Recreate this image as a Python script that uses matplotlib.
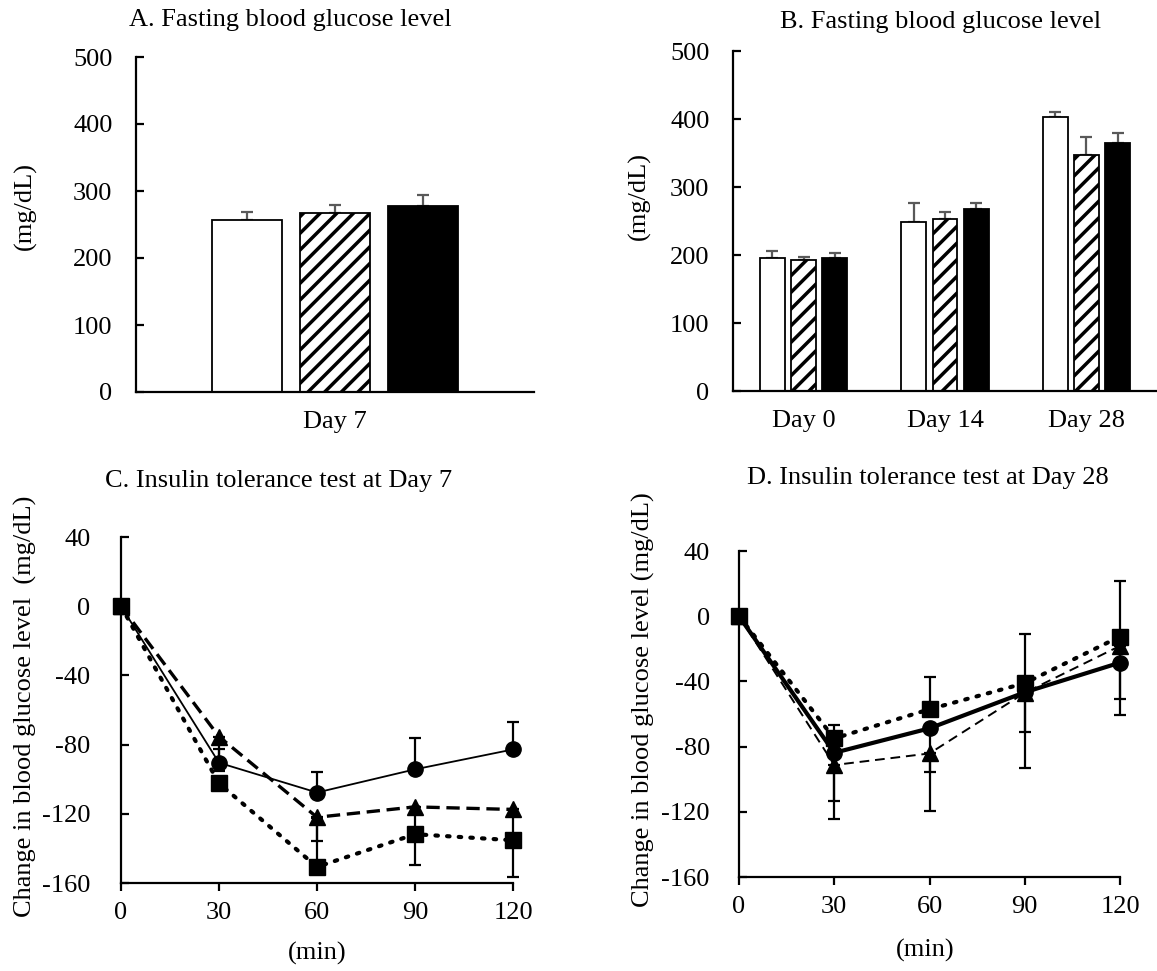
import matplotlib
matplotlib.use("Agg")
import matplotlib.pyplot as plt
import numpy as np

plt.rcParams['font.family'] = ['Liberation Serif', 'DejaVu Serif']
plt.rcParams['font.size'] = 19
plt.rcParams['axes.unicode_minus'] = False
plt.rcParams['hatch.linewidth'] = 2.5

# ===== data =====
a_groups = ["Day 7"]
a_white = [257]
a_white_err = [11]
a_hatch = [267]
a_hatch_err = [11.5]
a_black = [278]
a_black_err = [16]

b_groups = ["Day 0", "Day 14", "Day 28"]
b_white = [195, 249, 403]
b_white_err = [11, 27, 8]
b_hatch = [193, 253, 347]
b_hatch_err = [4, 10, 26]
b_black = [195, 268, 364]
b_black_err = [8, 8, 16]

minutes = [0, 30, 60, 90, 120]
c_circle = [0, -90.5, -107.7, -94.3, -82.8]
c_circle_up = [0, 8, 12, 18, 16]
c_triangle = [0, -75.4, -122, -116, -117.5]
c_triangle_dn = [0, 20, 14, 15, 18]
c_square = [0, -102.4, -150.7, -131.8, -135.3]
c_square_dn = [0, 4, 0, 18, 21]
c_square_up = [0, 0, 28, 0, 0]

d_circle = [0, -83.8, -68.8, -46.7, -28.5]
d_circle_dn = [0, 29.5, 26.7, 24.2, 22.5]
d_square = [0, -75, -57.1, -41.1, -12.5]
d_square_up = [0, 8, 20, 30, 34]
d_triangle = [0, -91.3, -84.2, -47, -18.2]
d_triangle_dn = [0, 33.4, 35.4, 46.4, 42.4]

W, H = 1157, 971
fig = plt.figure(figsize=(W / 100, H / 100), dpi=100)


def px_axes(x0, y0, x1, y1):
    return fig.add_axes([x0 / W, 1 - y1 / H, (x1 - x0) / W, (y1 - y0) / H])


def style_axes(ax, ypad):
    for s in ["top", "right"]:
        ax.spines[s].set_visible(False)
    for s in ["left", "bottom"]:
        ax.spines[s].set_linewidth(1.6)
    ax.tick_params(axis="y", direction="in", length=6, width=1.6, pad=ypad)


def bar_panel(ax, groups, white, white_err, hatch, hatch_err, black, black_err):
    x = np.arange(len(groups))
    off, bw = 0.221, 0.176
    series = [(white, white_err, "white", None, -off),
              (hatch, hatch_err, "white", "//", 0),
              (black, black_err, "black", None, off)]
    for vals, err, fc, h, dx in series:
        ax.errorbar(x + dx, vals, yerr=[np.zeros(len(vals)), err], fmt="none",
                    ecolor="#595959", elinewidth=1.6, capsize=4.5, capthick=1.6, zorder=1)
        ax.bar(x + dx, vals, bw, color=fc, edgecolor="black", linewidth=1.3,
               hatch=h, zorder=2)
    ax.set_xticks(x)
    ax.set_xticklabels(groups)
    ax.tick_params(axis="x", length=0, pad=14)
    ax.set_xlim(-0.5, len(groups) - 0.5)
    ax.set_ylim(0, 500)
    ax.set_yticks(range(0, 501, 100))


def line_panel(ax, circle, circle_err, triangle, triangle_err, square, square_err,
               styles):
    ek = dict(fmt="none", ecolor="black", elinewidth=1.6, capsize=4.5,
              capthick=1.6, zorder=2, clip_on=False)
    for vals, err in [(circle, circle_err), (triangle, triangle_err), (square, square_err)]:
        ax.errorbar(minutes, vals, yerr=err, **ek)
    for vals, mk, ms, (ls, lw) in [(circle, "o", 11, styles[0]),
                                   (triangle, "^", 11, styles[1]),
                                   (square, "s", 11, styles[2])]:
        ax.plot(minutes, vals, color="black", linestyle=ls, linewidth=lw, marker=mk,
                markersize=ms, zorder=3, clip_on=False)
    ax.set_xlim(0, 120)
    ax.set_ylim(-160, 40)
    ax.set_xticks(minutes)
    ax.set_yticks(range(-160, 41, 40))
    ax.tick_params(axis="x", direction="out", length=6, width=1.6, pad=8)


# A
ax_a = px_axes(136, 57, 534, 392)
style_axes(ax_a, 17)
bar_panel(ax_a, a_groups, a_white, a_white_err, a_hatch, a_hatch_err, a_black, a_black_err)

# B
ax_b = px_axes(733, 51, 1157, 391)
style_axes(ax_b, 17)
bar_panel(ax_b, b_groups, b_white, b_white_err, b_hatch, b_hatch_err, b_black, b_black_err)

# C
ax_c = px_axes(121, 537, 513, 883)
style_axes(ax_c, 22)
line_panel(ax_c, c_circle, [np.zeros(5), c_circle_up],
           c_triangle, [c_triangle_dn, np.zeros(5)],
           c_square, [c_square_dn, c_square_up],
           [("-", 1.3), ((0, (4, 2)), 2.4), ((0, (0.6, 2.2)), 3.0)])
for ln in ax_c.lines[-1:]:
    ln.set_dash_capstyle("round")

# D
ax_d = px_axes(739, 551, 1120, 877)
style_axes(ax_d, 21)
line_panel(ax_d, d_circle, [d_circle_dn, np.zeros(5)],
           d_triangle, [d_triangle_dn, np.zeros(5)],
           d_square, [np.zeros(5), d_square_up],
           [("-", 3.0), ((0, (5, 3)), 1.4), ((0, (0.6, 2.2)), 3.0)])
for ln in ax_d.lines[-1:]:
    ln.set_dash_capstyle("round")

# titles and axis labels
def ftext(x, y, s, **kw):
    fig.text(x / W, 1 - y / H, s, ha="center", va="center", **kw)

ftext(290, 20, "A. Fasting blood glucose level")
ftext(941, 22, "B. Fasting blood glucose level")
ftext(279, 481, "C. Insulin tolerance test at Day 7")
ftext(928, 478, "D. Insulin tolerance test at Day 28")

ftext(25, 206, "(mg/dL)", rotation=90)
ftext(639, 196, "(mg/dL)", rotation=90)
ftext(25, 706, "Change in blood glucose level  (mg/dL)", rotation=90)
ftext(643, 700, "Change in blood glucose level (mg/dL)", rotation=90)
ftext(317, 953, "(min)")
ftext(925, 950, "(min)")

fig.savefig("out.png", dpi=100)
